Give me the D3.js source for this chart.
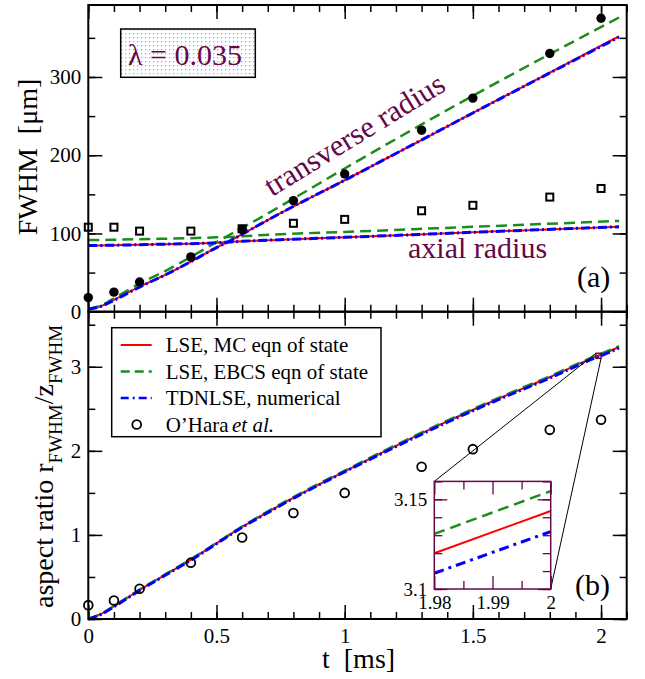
<!DOCTYPE html>
<html>
<head>
<meta charset="utf-8">
<script src="https://cdn.jsdelivr.net/npm/d3@7"></script>
<style>
  body { margin: 0; background: #fff; }
  svg, svg text { font-family: "Liberation Serif", "DejaVu Serif", serif; }
</style>
</head>
<body>
<svg id="chart" width="645" height="679" font-family="Liberation Serif, DejaVu Serif, serif"></svg>
<script>
// ── Data ───────────────────────────────────────────────────────────────────

// panel (a): model curves, FWHM in µm
const tA = [0, 0.05, 0.1, 0.2, 0.3, 0.4, 0.5, 0.55, 0.6, 0.75, 1.0, 1.5, 2.07];
const transMC   = [3, 7, 15, 32, 47, 64, 82, 90, 99, 126, 168, 254, 352];
const transEBCS = [3.5, 8, 17, 36, 52, 70, 89, 98, 107, 135, 183, 276, 376];
const transTD   = [3, 7, 14.5, 31.5, 47, 64, 82, 90, 99, 126, 168, 254, 351];
const axialMC   = [84.5, 84.7, 85, 85.6, 86.3, 87, 88, 89, 90, 92, 95, 101.5, 108.6];
const axialEBCS = [91.5, 91.7, 92, 92.6, 93.3, 94, 95, 95.5, 96.5, 99, 102, 108.5, 116];
const axialTD   = [84.5, 84.7, 85, 85.6, 86.3, 87, 88, 89, 90, 92, 95, 101.5, 108.6];

// experiment (O'Hara et al.)
const tExp = [0, 0.1, 0.2, 0.4, 0.6, 0.8, 1.0, 1.3, 1.5, 1.8, 2.0];
const transExp = [18, 25, 38, 70, 105, 142, 176, 232, 273, 330, 375];
const axialExp = [108, 108, 103, 103, 106, 113, 118, 129, 136, 146.5, 157.5];
const ratioExp = [0.165, 0.22, 0.36, 0.67, 0.97, 1.26, 1.50, 1.81, 2.02, 2.25, 2.37];

// panel (b): aspect ratio
const tB = [0, 0.05, 0.1, 0.2, 0.3, 0.4, 0.5, 0.6, 0.7, 0.8, 1.0, 1.2, 1.4, 1.6, 1.8, 1.98, 2.0, 2.07];
const ratioMC   = [0, 0.06, 0.15, 0.345, 0.525, 0.705, 0.9, 1.095, 1.27, 1.44, 1.755, 2.06, 2.35, 2.62, 2.875, 3.1199, 3.1435, 3.235];
const ratioEBCS = [0, 0.06, 0.155, 0.35, 0.53, 0.71, 0.905, 1.1, 1.28, 1.45, 1.765, 2.07, 2.36, 2.63, 2.887, 3.1307, 3.1546, 3.245];
const ratioTD   = [0, 0.055, 0.145, 0.34, 0.52, 0.70, 0.895, 1.09, 1.265, 1.435, 1.75, 2.05, 2.34, 2.61, 2.865, 3.1088, 3.132, 3.222];

const legendLabels = ['LSE, MC eqn of state', 'LSE, EBCS eqn of state', 'TDNLSE, numerical'];

// ── Styles ────────────────────────────────────────────────────────────────

const FONT = '"Liberation Serif", "DejaVu Serif", serif';
const RED = '#ff0000', GREEN = '#1c8c1c', BLUE = '#0000ff', MAROON = '#670748';
const series = [
  { color: RED,   width: 2,   dash: null },
  { color: GREEN, width: 2.5, dash: '11,6' },
  { color: BLUE,  width: 3,   dash: '9,3,2,3' },
];

const svg = d3.select('#chart');

svg.append('defs').append('pattern')
  .attr('id', 'dots').attr('width', 4).attr('height', 4)
  .attr('patternUnits', 'userSpaceOnUse')
  .call(p => {
    p.append('rect').attr('width', 4).attr('height', 4).attr('fill', '#fff');
    p.append('rect').attr('x', 1).attr('y', 1).attr('width', 1.2).attr('height', 1.2).attr('fill', '#35cfe6');
  });

// ── Scales ────────────────────────────────────────────────────────────────

const L = 88.3, R = 626.7;
const topA = 5, botA = 311.7, botB = 619;

const x = d3.scaleLinear().domain([0, 2.1]).range([L, R]);
const yA = d3.scaleLinear().domain([0, 392]).range([botA, topA]);
const yB = d3.scaleLinear().domain([0, 3.655]).range([botB, botA]);

const range = (a, b, s) => d3.range(Math.round((b - a) / s) + 1).map(i => +(a + i * s).toFixed(4));

function label(g) {
  return g.append('text').style('font-family', FONT);
}

// frame with inward ticks on all four sides
function frame(g, xs, ys, o) {
  const [x0, x1] = xs.range();
  const [y0, y1] = ys.range(); // y0 bottom, y1 top
  const add = (axis, tx, ty) => g.append('g').attr('transform', `translate(${tx},${ty})`).call(axis)
    .attr('font-family', null)
    .call(s => s.select('.domain').remove())
    .call(s => s.selectAll('line').attr('stroke', o.color).attr('stroke-width', o.tw))
    .call(s => s.selectAll('text').attr('fill', '#000').attr('font-size', o.fs).style('font-family', FONT));

  const sides = [
    [d3.axisBottom, 0, y0, xs, o.xMaj, o.xMin, o.xLabels],
    [d3.axisTop, 0, y1, xs, o.xMaj, o.xMin, false],
    [d3.axisLeft, x0, 0, ys, o.yMaj, o.yMin, o.yLabels],
    [d3.axisRight, x1, 0, ys, o.yMaj, o.yMin, false],
  ];
  sides.forEach(([fn, tx, ty, sc, maj, min, lab]) => {
    add(fn(sc).tickValues(min).tickSize(-o.minLen).tickFormat(''), tx, ty);
    const ax = fn(sc).tickValues(maj).tickSize(-o.majLen);
    if (lab) ax.tickFormat(lab.fmt).tickPadding(lab.pad);
    else ax.tickFormat('');
    add(ax, tx, ty);
  });

  g.append('rect')
    .attr('x', x0).attr('y', y1).attr('width', x1 - x0).attr('height', y0 - y1)
    .attr('fill', 'none').attr('stroke', o.color).attr('stroke-width', o.fw);
}

function curve(g, xs, ys, ts, vs, s, kind) {
  g.append('path')
    .datum(ts.map((t, i) => [t, vs[i]]))
    .attr('d', d3.line().x(d => xs(d[0])).y(d => ys(d[1])).curve(kind || d3.curveMonotoneX))
    .attr('fill', 'none')
    .attr('stroke', s.color)
    .attr('stroke-width', s.width)
    .attr('stroke-dasharray', s.dash);
}

const fmtNum = d => String(d);

// ── Panel (a) ─────────────────────────────────────────────────────────────

const gA = svg.append('g');

// lambda box
gA.append('rect').attr('x', 120.7).attr('y', 29).attr('width', 134.6).attr('height', 48.3)
  .attr('fill', 'url(#dots)').attr('stroke', '#000').attr('stroke-width', 1.5);
label(gA).attr('x', 128).attr('y', 65).attr('font-size', 30).attr('fill', MAROON)
  .text('λ = 0.035');

[[transMC, axialMC], [transEBCS, axialEBCS], [transTD, axialTD]].forEach(([tr, ax], i) => {
  curve(gA, x, yA, tA, tr, series[i]);
  curve(gA, x, yA, tA, ax, series[i]);
});

gA.selectAll('circle.tr').data(tExp).join('circle')
  .attr('cx', d => x(d)).attr('cy', (d, i) => yA(transExp[i])).attr('r', 4.7).attr('fill', '#000');
gA.selectAll('rect.ax').data(tExp).join('rect')
  .attr('x', d => x(d) - 3.5).attr('y', (d, i) => yA(axialExp[i]) - 3.5)
  .attr('width', 7).attr('height', 7)
  .attr('fill', 'none').attr('stroke', '#000').attr('stroke-width', 2);

label(gA).attr('transform', 'translate(272,197) rotate(-31.5)')
  .attr('font-size', 30.5).attr('fill', MAROON).text('transverse radius');
label(gA).attr('x', 408).attr('y', 258).attr('font-size', 30).attr('fill', MAROON).text('axial radius');
label(gA).attr('x', 577).attr('y', 287).attr('font-size', 30).attr('fill', '#000').text('(a)');

frame(gA, x, yA, {
  color: '#000', tw: 1.5, fw: 2, fs: 21, majLen: 14, minLen: 7,
  xMaj: range(0, 2, 0.5), xMin: range(0, 2.1, 0.1),
  yMaj: range(0, 300, 100), yMin: range(0, 350, 50),
  xLabels: false, yLabels: { fmt: fmtNum, pad: 7 },
});

label(gA).attr('transform', 'translate(37,157) rotate(-90)')
  .attr('text-anchor', 'middle').attr('font-size', 28)
  .call(t => {
    t.append('tspan').text('FWHM');
    t.append('tspan').attr('dx', 14).text('[μm]');
  });

// ── Panel (b) ─────────────────────────────────────────────────────────────

const gB = svg.append('g');

[ratioMC, ratioEBCS, ratioTD].forEach((vs, i) => curve(gB, x, yB, tB, vs, series[i]));

gB.selectAll('circle.ex').data(tExp).join('circle')
  .attr('cx', d => x(d)).attr('cy', (d, i) => yB(ratioExp[i])).attr('r', 4.4)
  .attr('fill', 'none').attr('stroke', '#000').attr('stroke-width', 1.8);

// inset
const xi = d3.scaleLinear().domain([1.98, 2.0]).range([434.3, 550.7]);
const yi = d3.scaleLinear().domain([3.1, 3.16]).range([589, 481.4]);

// zoom marker and connectors
gB.append('rect')
  .attr('x', x(1.98)).attr('y', yB(3.16)).attr('width', x(2.0) - x(1.98)).attr('height', yB(3.1) - yB(3.16))
  .attr('fill', 'none').attr('stroke', MAROON).attr('stroke-width', 1.5);
gB.append('line').attr('x1', xi(1.98)).attr('y1', yi(3.16)).attr('x2', x(1.98)).attr('y2', yB(3.16))
  .attr('stroke', '#000').attr('stroke-width', 1);
gB.append('line').attr('x1', xi(2.0)).attr('y1', yi(3.1)).attr('x2', x(2.0)).attr('y2', yB(3.1))
  .attr('stroke', '#000').attr('stroke-width', 1);

const gI = gB.append('g');
gI.append('rect').attr('x', 434.3).attr('y', 481.4).attr('width', 116.4).attr('height', 107.6).attr('fill', '#fff');
const inIdx = tB.map((t, i) => i).filter(i => tB[i] >= 1.98 && tB[i] <= 2.0);
[ratioMC, ratioEBCS, ratioTD].forEach((vs, i) => {
  const s = { ...series[i] };
  if (i === 2) s.dash = '10,5,3,5';
  if (i === 1) s.dash = '11,6';
  curve(gI, xi, yi, inIdx.map(k => tB[k]), inIdx.map(k => vs[k]), s, d3.curveLinear);
});
frame(gI, xi, yi, {
  color: MAROON, tw: 1.3, fw: 1.5, fs: 19, majLen: 13, minLen: 8,
  xMaj: [1.98, 1.99, 2.0], xMin: [1.985, 1.995],
  yMaj: [3.1, 3.15], yMin: range(3.1, 3.16, 0.01),
  xLabels: { fmt: fmtNum, pad: 7 }, yLabels: { fmt: fmtNum, pad: 7 },
});

// legend
const leg = gB.append('g');
leg.append('rect').attr('x', 111.7).attr('y', 327.7).attr('width', 269.3).attr('height', 109)
  .attr('fill', '#fff').attr('stroke', '#000').attr('stroke-width', 1.5);
const legY = [345, 371.5, 398, 424.5];
legendLabels.forEach((lab, i) => {
  leg.append('line').attr('x1', 120.7).attr('x2', 151.7).attr('y1', legY[i]).attr('y2', legY[i])
    .attr('stroke', series[i].color).attr('stroke-width', i === 0 ? 2 : 2.5)
    .attr('stroke-dasharray', i === 1 ? '9,5' : i === 2 ? '8,4,2,4' : null);
  label(leg).attr('x', 165.7).attr('y', legY[i] + 7).attr('font-size', 21).text(lab);
});
leg.append('circle').attr('cx', 136.7).attr('cy', legY[3]).attr('r', 4.4)
  .attr('fill', 'none').attr('stroke', '#000').attr('stroke-width', 1.8);
label(leg).attr('x', 165.7).attr('y', legY[3] + 7).attr('font-size', 21)
  .call(t => {
    t.append('tspan').text('O’Hara');
    t.append('tspan').attr('x', 232).attr('font-style', 'italic').text('et al.');
  });

label(gB).attr('x', 575).attr('y', 595).attr('font-size', 30).text('(b)');

frame(gB, x, yB, {
  color: '#000', tw: 1.5, fw: 2, fs: 21, majLen: 14, minLen: 7,
  xMaj: range(0, 2, 0.5), xMin: range(0, 2.1, 0.1),
  yMaj: range(0, 3, 1), yMin: range(0, 3.5, 0.5),
  xLabels: { fmt: fmtNum, pad: 9 }, yLabels: { fmt: fmtNum, pad: 7 },
});

label(gB).attr('transform', 'translate(53,466.5) rotate(-90)')
  .attr('text-anchor', 'middle').attr('font-size', 28)
  .call(t => {
    t.append('tspan').text('aspect ratio r');
    t.append('tspan').attr('font-size', 19).attr('dy', 9).text('FWHM');
    t.append('tspan').attr('dy', -9).text('/z');
    t.append('tspan').attr('font-size', 19).attr('dy', 9).text('FWHM');
  });

label(svg).attr('x', 322).attr('y', 668).attr('font-size', 28)
  .call(t => {
    t.append('tspan').text('t');
    t.append('tspan').attr('dx', 14).text('[ms]');
  });
</script>
</body>
</html>
